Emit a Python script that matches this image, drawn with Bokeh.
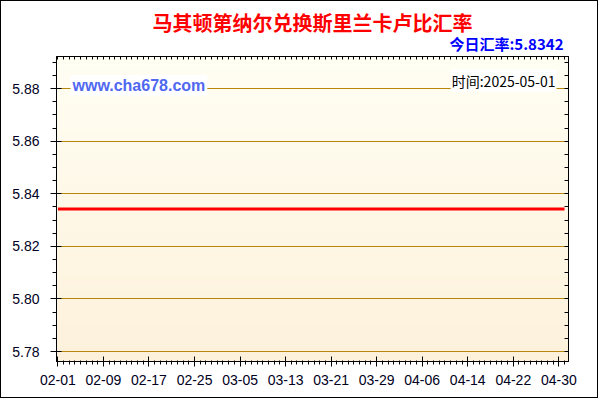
import numpy as np
import pandas as pd
from bokeh.plotting import figure
from bokeh.models import Range1d, LinearAxis, FixedTicker, Label, Grid, Title
from bokeh.embed import file_html
from bokeh.resources import INLINE

# ---- data ----
title_text = "马其顿第纳尔兑换斯里兰卡卢比汇率"
rate_text = "今日汇率:5.8342"
site_text = "www.cha678.com"
time_text = "时间:2025-05-01"

dates = pd.date_range("2025-02-01", "2025-05-01", freq="D")
rates = [
    5.8342, 5.8342, 5.8342, 5.8342, 5.8342, 5.8342, 5.8342, 5.8342, 5.8342, 5.8342,
    5.8342, 5.8342, 5.8342, 5.8342, 5.8342, 5.8342, 5.8342, 5.8342, 5.8342, 5.8342,
    5.8342, 5.8342, 5.8342, 5.8342, 5.8342, 5.8342, 5.8342, 5.8342, 5.8342, 5.8342,
    5.8342, 5.8342, 5.8342, 5.8342, 5.8342, 5.8342, 5.8342, 5.8342, 5.8342, 5.8342,
    5.8342, 5.8342, 5.8342, 5.8342, 5.8342, 5.8342, 5.8342, 5.8342, 5.8342, 5.8342,
    5.8342, 5.8342, 5.8342, 5.8342, 5.8342, 5.8342, 5.8342, 5.8342, 5.8342, 5.8342,
    5.8342, 5.8342, 5.8342, 5.8342, 5.8342, 5.8342, 5.8342, 5.8342, 5.8342, 5.8342,
    5.8342, 5.8342, 5.8342, 5.8342, 5.8342, 5.8342, 5.8342, 5.8342, 5.8342, 5.8342,
    5.8342, 5.8342, 5.8342, 5.8342, 5.8342, 5.8342, 5.8342, 5.8342, 5.8342, 5.8342,
]
x_tick_labels = ["02-01", "02-09", "02-17", "02-25", "03-05", "03-13",
                 "03-21", "03-29", "04-06", "04-14", "04-22", "04-30"]
y_ticks = [5.78, 5.80, 5.82, 5.84, 5.86, 5.88]
y_tick_labels = ["5.78", "5.80", "5.82", "5.84", "5.86", "5.88"]

# ---- derived ----
days = [int(d) for d in (dates - dates[0]).days]
x_major = [i * 8 for i in range(len(x_tick_labels))]
x_minor = list(range(0, 90))
x_over = {float(d): lab for d, lab in zip(x_major, x_tick_labels)}
y_over = {float(v): s for v, s in zip(y_ticks, y_tick_labels)}
y_minor = [round(v, 3) for v in np.arange(5.775, 5.8951, 0.005)]

xr = Range1d(-0.25, 89.7)
yr = Range1d(5.7762, 5.8922)

p = figure(width=598, height=398, x_range=xr, y_range=yr,
           output_backend="svg", toolbar_location=None, title=None,
           x_axis_type=None, y_axis_type=None,
           min_border_left=55, min_border_top=55,
           min_border_right=31, min_border_bottom=38)
p.styles = {"border": "1px solid black"}
p.background_fill_color = "#FEF8E8"
p.border_fill_color = "white"
p.outline_line_color = "black"
p.outline_line_width = 1

# gradient background
n = 64
top_c = np.array([255, 254, 243], dtype=float)
bot_c = np.array([253, 241, 219], dtype=float)
t = np.linspace(0, 1, n)[:, None]
cols = (bot_c * (1 - t) + top_c * t).round().astype(np.uint8)
img = np.empty((n, 2), dtype=np.uint32)
view = img.view(dtype=np.uint8).reshape((n, 2, 4))
for k in range(2):
    view[:, k, 0] = cols[:, 0]
    view[:, k, 1] = cols[:, 1]
    view[:, k, 2] = cols[:, 2]
    view[:, k, 3] = 255
p.image_rgba(image=[img], x=xr.start, y=yr.start,
             dw=xr.end - xr.start, dh=yr.end - yr.start, level="image")

xticker = FixedTicker(ticks=x_major, minor_ticks=x_minor)
yticker = FixedTicker(ticks=y_ticks, minor_ticks=y_minor)
xticker_edge = FixedTicker(ticks=[], minor_ticks=x_minor)
yticker_edge = FixedTicker(ticks=[], minor_ticks=y_minor)

p.add_layout(Grid(dimension=1, ticker=yticker, grid_line_color="#B8860B",
                  grid_line_width=1))

font = "Liberation Sans"
xaxis = LinearAxis(ticker=xticker, major_label_overrides=x_over,
                   major_tick_in=5, major_tick_out=5,
                   minor_tick_in=1, minor_tick_out=3,
                   major_label_standoff=8,
                   major_label_text_font=font,
                   major_label_text_font_size="14px",
                   major_label_text_color="#000022",
                   axis_line_color="black",
                   major_tick_line_color="black",
                   minor_tick_line_color="black")
p.add_layout(xaxis, "below")

yaxis = LinearAxis(ticker=yticker, major_label_overrides=y_over,
                   major_tick_in=5, major_tick_out=6,
                   minor_tick_in=0, minor_tick_out=4,
                   major_label_standoff=11,
                   major_label_text_font=font,
                   major_label_text_font_size="14px",
                   major_label_text_color="#000022",
                   axis_line_color="black",
                   major_tick_line_color="black",
                   minor_tick_line_color="black")
p.add_layout(yaxis, "left")

taxis = LinearAxis(ticker=xticker_edge,
                   major_tick_in=0, major_tick_out=0,
                   minor_tick_in=3, minor_tick_out=0,
                   axis_line_color="black",
                   minor_tick_line_color="black")
p.add_layout(taxis, "above")

raxis = LinearAxis(ticker=yticker_edge,
                   major_tick_in=0, major_tick_out=0,
                   minor_tick_in=4, minor_tick_out=0,
                   axis_line_color="black",
                   minor_tick_line_color="black")
p.add_layout(raxis, "right")

p.line(days, rates, line_color="#FF0000", line_width=3)

p.add_layout(Title(text=rate_text, align="right", offset=5, standoff=5,
                   text_font="Noto Sans CJK SC", text_font_style="bold",
                   text_font_size="15px", text_color="#0000FF"), "above")
p.add_layout(Title(text=title_text, align="center", standoff=-20,
                   vertical_align="top",
                   text_font="Noto Sans CJK SC", text_font_style="bold",
                   text_font_size="20px", text_color="#FF0000"), "above")

p.add_layout(Label(x=14, y=276, x_units="screen", y_units="screen",
                   text=site_text, text_align="left", text_baseline="middle",
                   text_font=font, text_font_style="bold",
                   text_font_size="16px", text_color="#5068F0",
                   background_fill_color="white", padding=2))
p.add_layout(Label(x=500, y=281, x_units="screen", y_units="screen",
                   text=time_text, text_align="right", text_baseline="middle",
                   text_font="Noto Sans CJK SC",
                   text_font_size="14px", text_color="black",
                   background_fill_color="white", padding=1))

open("out.html", "w").write(file_html(p, INLINE))
